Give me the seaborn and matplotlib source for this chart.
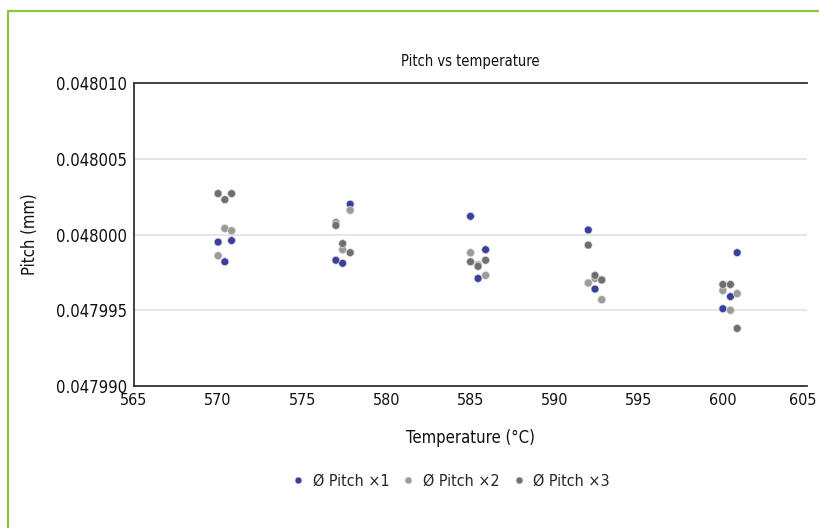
import matplotlib
matplotlib.use("Agg")
import matplotlib.pyplot as plt
import matplotlib.lines as mlines
import matplotlib.transforms as mtransforms
import seaborn as sns
import pandas as pd

# temperatures (°C) for each series, three runs per nominal temperature
temp_x1 = [570.0, 570.4, 570.8, 577.0, 577.4, 577.85, 585.0, 585.45, 585.9, 592.0, 592.4, 592.8, 600.0, 600.45, 600.85]
pitch_x1 = [0.0479995, 0.0479982, 0.0479996, 0.0479983, 0.0479981, 0.0480020, 0.0480012, 0.0479971, 0.0479990,
            0.0480003, 0.0479964, 0.0479970, 0.0479951, 0.0479959, 0.0479988]

temp_x2 = temp_x1
pitch_x2 = [0.0479986, 0.0480004, 0.04800025, 0.0480008, 0.0479990, 0.0480016, 0.0479988, 0.0479980, 0.0479973,
            0.0479968, 0.0479971, 0.0479957, 0.0479963, 0.0479950, 0.0479961]

temp_x3 = temp_x1
pitch_x3 = [0.0480027, 0.0480023, 0.0480027, 0.0480006, 0.0479994, 0.0479988, 0.0479982, 0.0479979, 0.0479983,
            0.0479993, 0.0479973, 0.0479970, 0.0479967, 0.0479967, 0.0479938]

series_names = ["Ø Pitch ×1", "Ø Pitch ×2", "Ø Pitch ×3"]
colors = ["#3b3f9c", "#9b9b9b", "#6f6f6f"]

df = pd.concat([
    pd.DataFrame({"temp": temp_x1, "pitch": pitch_x1, "series": series_names[0]}),
    pd.DataFrame({"temp": temp_x2, "pitch": pitch_x2, "series": series_names[1]}),
    pd.DataFrame({"temp": temp_x3, "pitch": pitch_x3, "series": series_names[2]}),
])

sns.set_style("white")
plt.rcParams["font.family"] = ["DejaVu Sans"]
plt.rcParams["font.stretch"] = "condensed"

fig = plt.figure(figsize=(8.19, 5.28), dpi=100)
ax = fig.add_axes([134 / 819, 1 - 386 / 528, 673 / 819, 303 / 528])

# green frame (top and left edges only)
fig.add_artist(mlines.Line2D([8 / 819, 8 / 819], [0, 1 - 11 / 528], color="#8cc63f", lw=1.6, transform=fig.transFigure))
fig.add_artist(mlines.Line2D([8 / 819, 1], [1 - 11 / 528, 1 - 11 / 528], color="#8cc63f", lw=1.6, transform=fig.transFigure))

sns.scatterplot(data=df, x="temp", y="pitch", hue="series", hue_order=series_names,
                palette=colors, s=32, edgecolor="#dddddd", linewidth=0.5, ax=ax, legend=False, zorder=3)

ax.set_xlim(565, 605)
ax.set_ylim(0.047990, 0.048010)
ax.set_xticks(range(565, 606, 5))
ax.set_yticks([0.047990, 0.047995, 0.048000, 0.048005, 0.048010])
ax.set_yticklabels(["0.047990", "0.047995", "0.048000", "0.048005", "0.048010"])
ax.tick_params(length=0, labelsize=12, colors="#111111", pad=5)
ax.tick_params(axis="x", labelsize=11.5)
ax.grid(axis="y", color="#e2e2e2", lw=1.2)
ax.set_axisbelow(True)

# keep the last x label inside the canvas
last = ax.get_xticklabels()[-1]
last.set_transform(last.get_transform() + mtransforms.ScaledTranslation(-3 / 72, 0, fig.dpi_scale_trans))

for side in ["left", "top", "bottom"]:
    ax.spines[side].set_color("#333333")
    ax.spines[side].set_linewidth(1.3)
ax.spines["right"].set_visible(False)

ax.set_title("Pitch vs temperature", fontsize=10.5, pad=12, color="#111111")
ax.set_xlabel("Temperature (°C)", fontsize=12, labelpad=15, color="#111111")
ax.set_ylabel("Pitch (mm)", fontsize=12, labelpad=12, color="#111111")

handles = [mlines.Line2D([], [], marker="o", ls="", color=c, markersize=5, markeredgecolor="#dddddd", markeredgewidth=0.5)
           for c in colors]
fig.legend(handles, series_names, loc="center", bbox_to_anchor=(450 / 819, 1 - 481 / 528), ncol=3,
           frameon=False, fontsize=11.5, handletextpad=0.4, columnspacing=0.7, handlelength=1.0)

fig.savefig("out.png", dpi=100, facecolor="white")
